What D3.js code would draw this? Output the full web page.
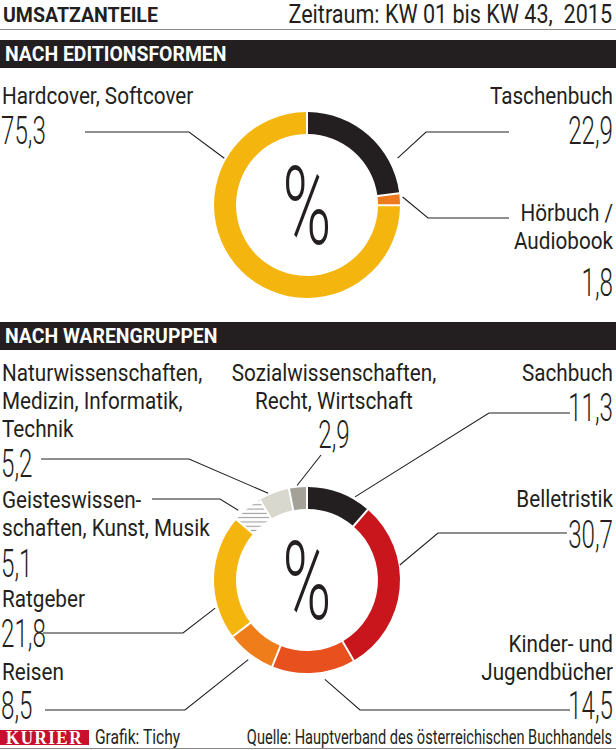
<!DOCTYPE html>
<html><head><meta charset="utf-8">
<script src="https://cdn.jsdelivr.net/npm/d3@7"></script>
<style>body{margin:0;background:#fff}svg{display:block}</style></head>
<body><svg id="c" width="616" height="750"></svg>
<script>
// ---------- data ----------
const title = "UMSATZANTEILE";
const period = "Zeitraum: KW 01 bis KW 43,  2015";
const section1 = "NACH EDITIONSFORMEN";
const section2 = "NACH WARENGRUPPEN";
const editionCategories = ["Taschenbuch", "Hörbuch / Audiobook", "Hardcover, Softcover"];
const editionValues = [22.9, 1.8, 75.3];
const groupCategories = ["Sachbuch", "Belletristik", "Kinder- und Jugendbücher", "Reisen", "Ratgeber",
  "Geisteswissenschaften, Kunst, Musik", "Naturwissenschaften, Medizin, Informatik, Technik",
  "Sozialwissenschaften, Recht, Wirtschaft"];
const groupValues = [11.3, 30.7, 14.5, 8.5, 21.8, 5.1, 5.2, 2.9];
const credit = "Grafik: Tichy";
const source = "Quelle: Hauptverband des österreichischen Buchhandels";
const brand = "KURIER";

// ---------- styles / layout ----------
const INK = "#231f20";
const editionColors = [INK, "#ee7a1e", "#f5b50f"];
const groupColors = [INK, "#c9161d", "#e8501e", "#ef7e1a", "#f5b50f", "url(#hatch)", "#d9d8ce", "#a3a198"];
const LBL = {size: 23, sx: 0.9, weight: 400};
const NUM = {size: 39, sx: 0.62, weight: 300};

const edLayout = [
  {lines: ["Taschenbuch"], x: 613, y: 104, anchor: "end", numY: 144, ang: 62.7, r: 102, pts: [[426,132],[509,132]]},
  {lines: ["Hörbuch /", "Audiobook"], x: 613, y: 221, anchor: "end", numY: 296, ang: 85.2, r: 96, pts: [[428,218],[509,218]]},
  {lines: ["Hardcover, Softcover"], x: 2, y: 104, anchor: "start", numY: 144, ang: 299.5, r: 95, pts: [[189,132],[85,132]]}
];
const grLayout = [
  {lines: ["Sachbuch"], x: 613, y: 381, anchor: "end", numY: 421, ang: 30, r: 96, pts: [[489,413],[570,413]]},
  {lines: ["Belletristik"], x: 613, y: 507, anchor: "end", numY: 548, ang: 80.8, r: 94, pts: [[438,533],[567,533]]},
  {lines: ["Kinder- und", "Jugendbücher"], x: 613, y: 652, anchor: "end", numY: 719, ang: 169.8, r: 101, pts: [[360,710],[570,710]]},
  {lines: ["Reisen"], x: 2, y: 680, anchor: "start", numY: 719, ang: 216.4, r: 99, pts: [[185,710],[45,710]]},
  {lines: ["Ratgeber"], x: 2, y: 607, anchor: "start", numY: 647, ang: 253, r: 96, pts: [[183,633],[43,633]]},
  {lines: ["Geisteswissen-", "schaften, Kunst, Musik"], x: 2, y: 508, anchor: "start", numY: 577, ang: 315.4, r: 98, pts: [[220,499],[152,499]]},
  {lines: ["Naturwissenschaften,", "Medizin, Informatik,", "Technik"], x: 2, y: 381, anchor: "start", numY: 477, ang: 335.9, r: 95, pts: [[189,459],[41,459]]},
  {lines: ["Sozialwissenschaften,", "Recht, Wirtschaft"], x: 334, y: 381, anchor: "middle", numY: 448, ang: 354, r: 95, pts: [[321,455]]}
];

const svg = d3.select("#c");
const fmt = v => d3.format(".1f")(v).replace(".", ",");

function T(g, s, x, y, o) {
  return g.append("text")
    .attr("transform", `translate(${x},${y}) scale(${o.sx || 1},1)`)
    .attr("text-anchor", o.anchor || "start")
    .attr("font-family", o.family || "Roboto, 'Noto Sans', sans-serif")
    .attr("font-size", o.size)
    .attr("font-weight", o.weight || 400)
    .attr("letter-spacing", o.ls || 0)
    .attr("fill", o.fill || INK)
    .style("white-space", "pre")
    .text(s);
}

// pattern for hatched slice
const defs = svg.append("defs");
const pat = defs.append("pattern").attr("id", "hatch").attr("patternUnits", "userSpaceOnUse")
  .attr("width", 6).attr("height", 4.3);
pat.append("rect").attr("width", 6).attr("height", 4.3).attr("fill", "#fff");
pat.append("rect").attr("y", 1.6).attr("width", 6).attr("height", 1.1).attr("fill", "#9c9c9c");

// header
T(svg, title, 3, 22, {size: 21, weight: 700, sx: 0.93});
T(svg, period, 612, 23, {size: 26, sx: 0.83, anchor: "end"});
svg.append("line").attr("x1", 0).attr("x2", 616).attr("y1", 29.5).attr("y2", 29.5).attr("stroke", "#8a8a8a").attr("stroke-width", 1.2);

function sectionBar(y, label) {
  svg.append("rect").attr("x", 0).attr("y", y).attr("width", 616).attr("height", 28).attr("fill", INK);
  T(svg, label, 5, y + 21, {size: 20, weight: 700, sx: 0.97, fill: "#fff"});
}
sectionBar(40, section1);
sectionBar(322, section2);

function donut(cx, cy, values, colors, layout) {
  const g = svg.append("g").attr("transform", `translate(${cx},${cy})`);
  const pie = d3.pie().sort(null).value(d => d).padAngle(0.017);
  const arc = d3.arc().innerRadius(71).outerRadius(93);
  g.selectAll("path.slice").data(pie(values)).join("path").attr("class", "slice")
    .attr("d", arc).attr("fill", (d, i) => colors[i]);
  T(g, "%", 0, 39, {size: 110, weight: 300, sx: 0.6, anchor: "middle"});
  layout.forEach((L, i) => {
    const a = L.ang * Math.PI / 180;
    const p0 = [cx + L.r * Math.sin(a), cy - L.r * Math.cos(a)];
    const pts = [p0].concat(L.pts);
    svg.append("path").attr("d", d3.line()(pts)).attr("fill", "none")
      .attr("stroke", INK).attr("stroke-width", 1.1);
    L.lines.forEach((s, k) => T(svg, s, L.x, L.y + k * 28, {...LBL, anchor: L.anchor}));
    T(svg, fmt(values[i]), L.x + (L.anchor === "start" ? -1 : 0), L.numY, {...NUM, anchor: L.anchor});
  });
}
donut(307, 205, editionValues, editionColors, edLayout);
donut(307, 580, groupValues, groupColors, grLayout);

// footer
svg.append("rect").attr("x", 0).attr("y", 730).attr("width", 89).attr("height", 15).attr("fill", "#c8102e");
T(svg, brand, 44.5, 744, {size: 18, weight: 700, family: "'Liberation Serif', 'DejaVu Serif', serif", fill: "#fff", anchor: "middle", ls: 1.5, sx: 0.95});
T(svg, credit, 95, 744, {size: 20, sx: 0.78});
T(svg, source, 612, 744, {size: 20, sx: 0.73, anchor: "end"});
svg.append("line").attr("x1", 0).attr("x2", 616).attr("y1", 748.5).attr("y2", 748.5).attr("stroke", "#8a8a8a").attr("stroke-width", 1.2);
</script></body></html>
